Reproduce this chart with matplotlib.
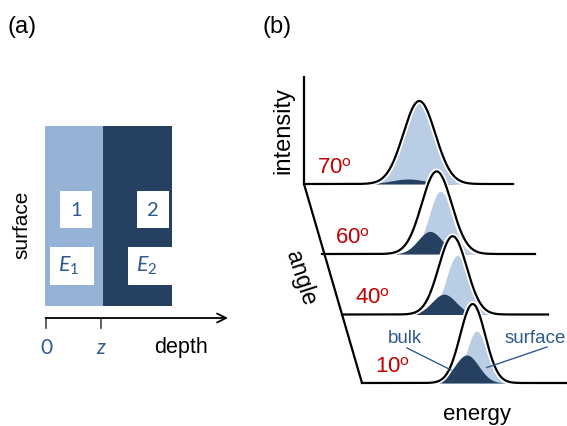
import matplotlib
matplotlib.use('Agg')
import matplotlib.pyplot as plt
from matplotlib.patches import Rectangle
import numpy as np

plt.rcParams['font.family'] = ['Liberation Sans', 'DejaVu Sans']
plt.rcParams['mathtext.fontset'] = 'custom'
plt.rcParams['mathtext.rm'] = 'Lato'
plt.rcParams['mathtext.it'] = 'Lato:italic'

LIGHT_A = '#95B3D7'
DARK = '#254061'
LIGHT_B = '#B9CDE5'
BLUE = '#2F5A8E'
RED = '#C00000'

# ---- panel (a): layered sample (figure pixel units) ----
layer_edges = [45, 103, 172]          # surface, interface z, end
layer_top, layer_bottom = 126, 306
layer_names = ['1', '2']
layer_energies = ['$E_1$', '$E_2$']
name_boxes = [(60, 191, 32, 37), (137, 191, 32, 37)]
energy_boxes = [(50, 247, 44, 38), (128, 247, 44, 38)]
depth_ticks = [46, 101]
depth_tick_labels = ['0', 'z']

# ---- panel (b): angle-resolved spectra ----
angles = [70, 60, 40, 10]
row_x0 = [304, 322, 342, 362]        # baseline start of each row
row_x1 = [513, 535, 548, 567]        # baseline end
row_y0 = [184, 254, 314.5, 383]      # baseline height
# peak parameters in local energy units (offset from row start) / intensity units
total_c = [115.3, 114.7, 110.7, 110.7]
total_h = [83, 82.6, 78.3, 79]
total_s = [16, 15, 14, 12.5]
surf_c = [116, 118.5, 115.3, 114.7]
surf_h = [81, 62.6, 59, 52]
surf_s = [15.5, 11.5, 11, 10]
bulk_c = [104, 108, 102, 104.7]
bulk_h = [5, 22.6, 20.3, 28]
bulk_s = [17, 12, 12, 12]


def gauss(e, c, h, s):
    return h * np.exp(-(e - c) ** 2 / (2 * s ** 2))


fig = plt.figure(figsize=(5.67, 4.26), dpi=100)
ax = fig.add_axes([0, 0, 1, 1])
ax.set_xlim(0, 567)
ax.set_ylim(426, 0)
ax.axis('off')

# panel (a)
ax.text(22, 27, '(a)', fontsize=17, ha='center', va='center')
ax.add_patch(Rectangle((layer_edges[0], layer_top), layer_edges[1] - layer_edges[0],
                       layer_bottom - layer_top, color=LIGHT_A, lw=0))
ax.add_patch(Rectangle((layer_edges[1], layer_top), layer_edges[2] - layer_edges[1],
                       layer_bottom - layer_top, color=DARK, lw=0))
for (bx, by, bw, bh), name in zip(name_boxes, layer_names):
    ax.add_patch(Rectangle((bx, by), bw, bh, color='white', lw=0, zorder=2))
    ax.text(bx + bw / 2, by + bh / 2 + 1, name, fontsize=14.5, family='Lato',
            color=BLUE, ha='center', va='center', zorder=3)
for (bx, by, bw, bh), en in zip(energy_boxes, layer_energies):
    ax.add_patch(Rectangle((bx, by), bw, bh, color='white', lw=0, zorder=2))
    ax.text(bx + bw / 2 - 3, by + bh / 2, en, fontsize=15.5, color=BLUE,
            ha='center', va='center', zorder=3)
ax.text(22, 225, 'surface', fontsize=15, rotation=90, ha='center', va='center')

ax.annotate('', xy=(228, 318), xytext=(45.5, 318),
            arrowprops=dict(arrowstyle='->', lw=1.3, color='black', mutation_scale=16,
                            shrinkA=0, shrinkB=0))
for tx, tl in zip(depth_ticks, depth_tick_labels):
    ax.plot([tx, tx], [318, 328], color='#444444', lw=1.2)
    ax.text(tx, 348, tl, fontsize=15, family='Lato', color=BLUE,
            style='italic' if tl == 'z' else 'normal', ha='center', va='center')
ax.text(181, 348, 'depth', fontsize=15.5, ha='center', va='center')

# panel (b)
ax.text(277, 27, '(b)', fontsize=17, ha='center', va='center')
ax.plot([row_x0[0], row_x0[0]], [77, row_y0[0]], color='black', lw=1.6, zorder=50)
ax.plot([row_x0[0], row_x0[-1]], [row_y0[0], row_y0[-1]], color='black', lw=1.6,
        zorder=50, solid_capstyle='round')
ax.text(283, 130, 'intensity', fontsize=17, rotation=90, ha='center', va='center')
ax.text(301, 278, 'angle', fontsize=16.5, rotation=-72, ha='center', va='center')
ax.text(477, 420, 'energy', fontsize=16, ha='center', va='baseline')

for i, ang in enumerate(angles):
    z = 10 + 5 * i
    e = np.linspace(0, row_x1[i] - row_x0[i], 600)
    x = row_x0[i] + e
    y0 = row_y0[i]
    tot = gauss(e, total_c[i], total_h[i], total_s[i])
    surf = gauss(e, surf_c[i], surf_h[i], surf_s[i])
    bulk = gauss(e, bulk_c[i], bulk_h[i], bulk_s[i])
    ax.fill_between(x, y0, y0 - tot, color='white', lw=0, zorder=z)
    ax.fill_between(x, y0, y0 - surf, color=LIGHT_B, lw=0, zorder=z + 1)
    ax.fill_between(x, y0, y0 - bulk, color=DARK, lw=0, zorder=z + 2)
    ax.plot(x, y0 - tot, color='white', lw=4, zorder=z + 3, solid_capstyle='butt')
    ax.plot(x, y0 - tot, color='black', lw=1.6, zorder=z + 4)
    ax.text(row_x0[i] + 13, y0 - 16, '%d$^\\mathrm{o}$' % ang, fontsize=16,
            color=RED, ha='left', va='center', zorder=60)

# component labels
ax.text(405, 343, 'bulk', fontsize=13.5, color=BLUE, ha='center', va='baseline', zorder=60)
ax.text(535, 343, 'surface', fontsize=13.5, color=BLUE, ha='center', va='baseline', zorder=60)
ax.plot([407, 451], [348, 370], color=BLUE, lw=1, zorder=60)
ax.plot([547, 487], [347, 367.5], color=BLUE, lw=1, zorder=60)

fig.savefig('out.png', dpi=100)
